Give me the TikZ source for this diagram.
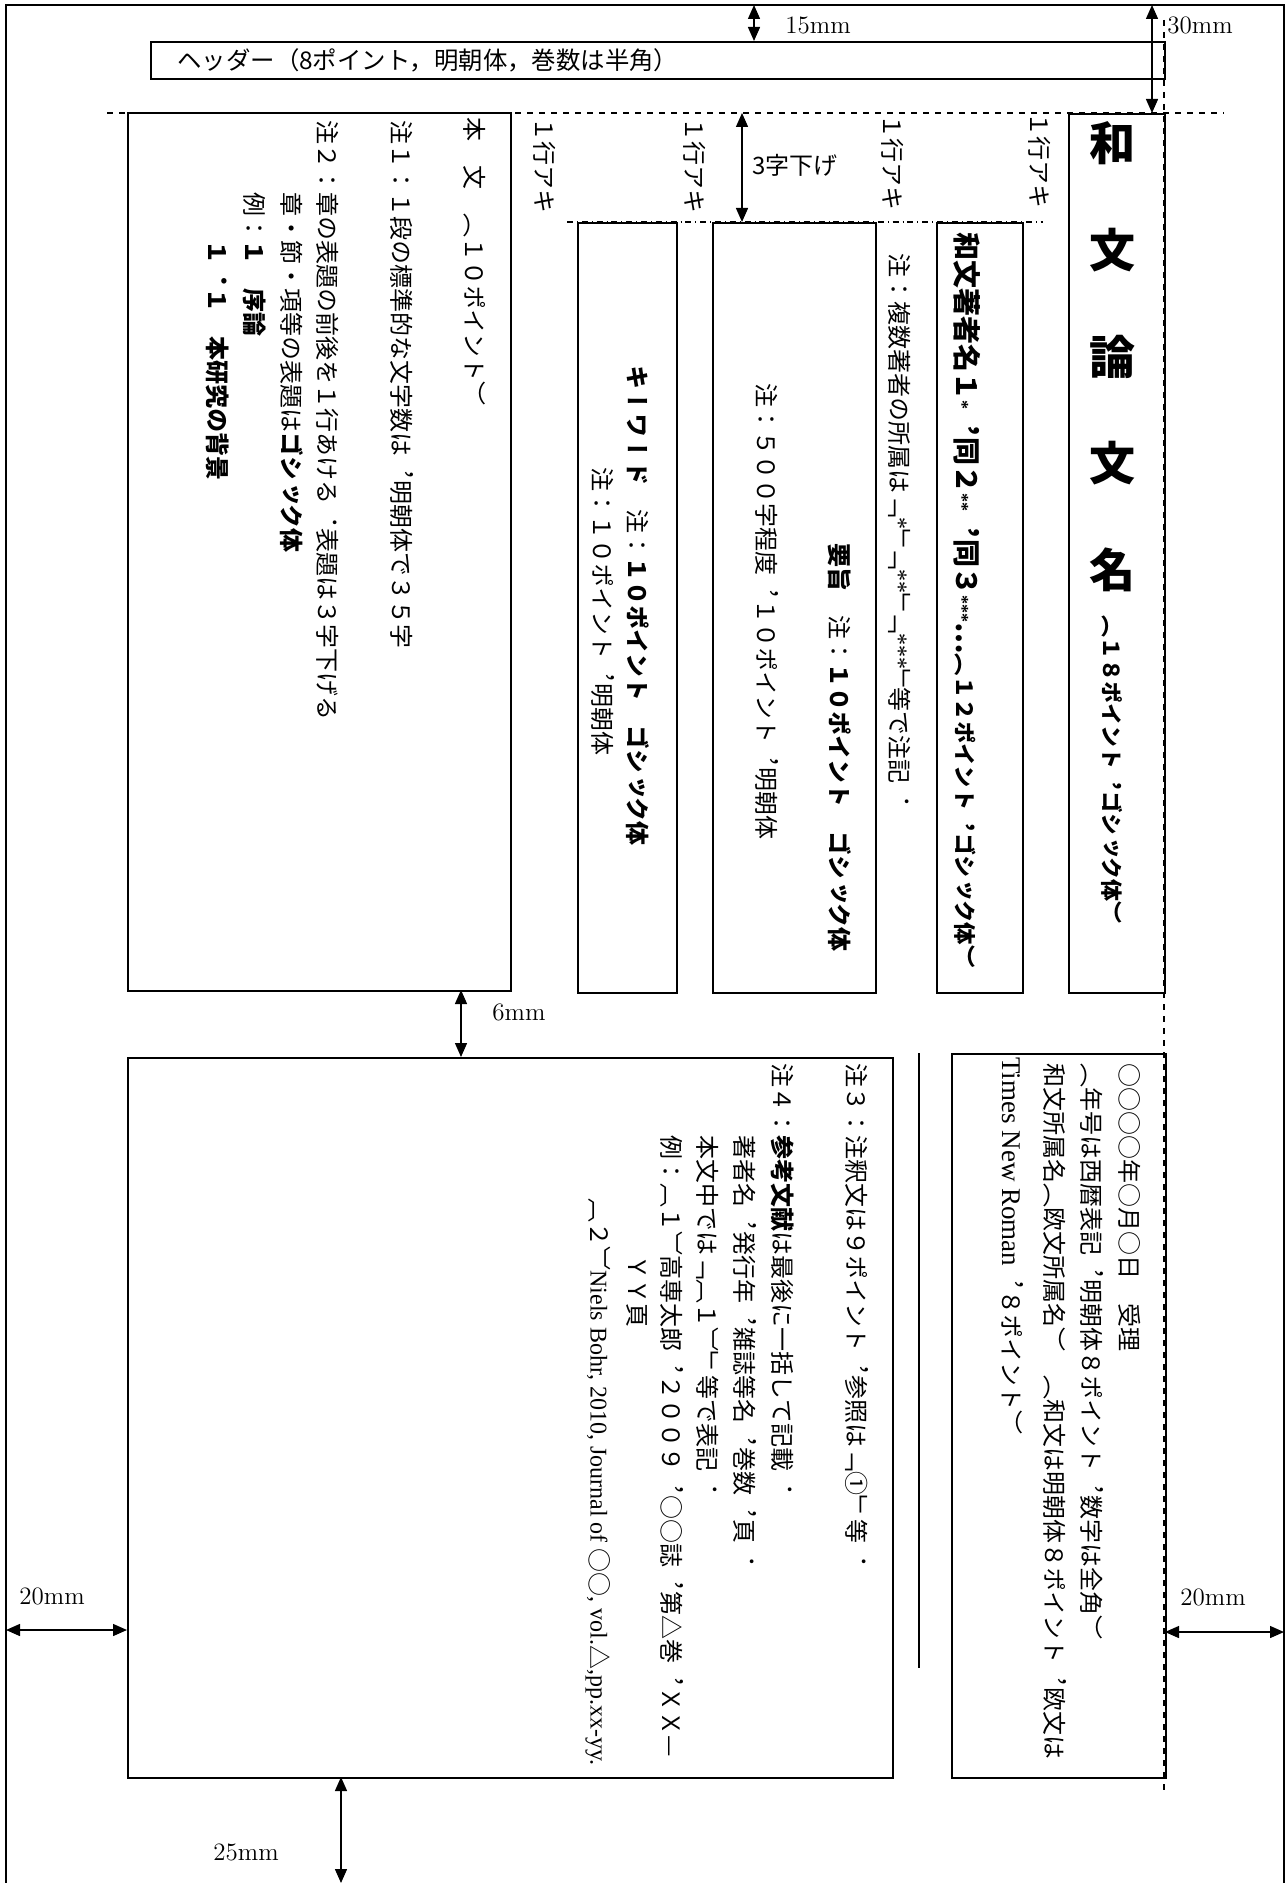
\documentclass[tikz,border=0pt]{standalone}
\usepackage{fontspec}
\usetikzlibrary{arrows.meta}
\newfontfamily\tate[Vertical=RotatedGlyphs]{Noto Sans CJK JP}
\newfontfamily\yoko{Noto Sans CJK JP}
\newfontfamily\lat{Liberation Serif}
\newcommand\myast[1]{{\lat\bfseries\fontsize{9}{10}\selectfont #1}}
\tikzset{
  vt/.style={rotate=-90,anchor=west,inner sep=0pt,font=\tate\fontsize{12}{14}\selectfont},
  vtb/.style={vt,font=\tate\bfseries\fontsize{12}{14}\selectfont},
  frame/.style={draw,line width=0.8pt},
  dim/.style={line width=0.7pt,{Triangle[length=7pt,width=6pt]}-{Triangle[length=7pt,width=6pt]}},
  dimlabel/.style={anchor=west,inner sep=0pt,font=\fontsize{12.5}{14}\selectfont},
  titlechar/.style={inner sep=0pt,font=\yoko\bfseries\fontsize{23}{25}\selectfont},
}
\begin{document}
\begin{tikzpicture}[x=0.5pt,y=-0.5pt]
\useasboundingbox (0,0) rectangle (1288,1883);
% page border
\draw[line width=1pt] (6,1900) -- (6,5) -- (1284,5) -- (1284,1900);
% guide lines
\draw[dashed,line width=0.7pt] (107,113) -- (1224,113);
\draw[dashed,line width=0.8pt] (1164,20) -- (1164,1793);
\draw[dashdotted,line width=0.7pt] (567,222) -- (1043,222);
% header
\node[frame,minimum width=507pt,minimum height=18.5pt,anchor=north west,inner sep=0pt] (header) at (150,41) {};
\node[anchor=west,inner sep=0pt,font=\yoko\fontsize{12.2}{14}\selectfont] (headertext) at (177,60) {ヘッダー（8ポイント，明朝体，巻数は半角）};
% boxes
\node[frame,anchor=north west,minimum width=191.5pt,minimum height=439pt,inner sep=0pt] (honbun) at (127,112) {};
\node[frame,anchor=north west,minimum width=49.5pt,minimum height=385pt,inner sep=0pt] (kw) at (577,222) {};
\node[frame,anchor=north west,minimum width=81.5pt,minimum height=385pt,inner sep=0pt] (abs) at (712,222) {};
\node[frame,anchor=north west,minimum width=43pt,minimum height=385pt,inner sep=0pt] (au) at (936,222) {};
\node[frame,anchor=north west,minimum width=48pt,minimum height=439.5pt,inner sep=0pt] (title) at (1068,113) {};
\node[frame,anchor=north west,minimum width=382.5pt,minimum height=360pt,inner sep=0pt] (body) at (127,1057) {};
\node[frame,anchor=north west,minimum width=107pt,minimum height=362pt,inner sep=0pt] (recv) at (951,1053) {};
\coordinate (sepA) at (919,1053);
\coordinate (sepB) at (919,1668);
\draw[line width=0.8pt] (sepA) -- (sepB);
% dimension arrows
\coordinate (d15a) at (754,5); \coordinate (d15b) at (754,41);
\draw[dim] (d15a) -- (d15b);
\node[dimlabel] (l15) at (785,25) {15mm};
\coordinate (d30a) at (1152,5); \coordinate (d30b) at (1152,113);
\draw[dim] (d30a) -- (d30b);
\node[dimlabel] (l30) at (1167,25) {30mm};
\coordinate (d3a) at (742,113); \coordinate (d3b) at (742,222);
\draw[dim] (d3a) -- (d3b);
\node[anchor=west,inner sep=0pt,font=\yoko\fontsize{12}{14}\selectfont] (l3) at (752,165) {3字下げ};
\coordinate (d6a) at (461,990); \coordinate (d6b) at (461,1057);
\draw[dim] (d6a) -- (d6b);
\node[dimlabel] (l6) at (492,1012) {6mm};
\coordinate (dLa) at (6,1630); \coordinate (dLb) at (127,1630);
\draw[dim] (dLa) -- (dLb);
\node[dimlabel] (lL) at (19,1596) {20mm};
\coordinate (dRa) at (1165,1632); \coordinate (dRb) at (1284,1632);
\draw[dim] (dRa) -- (dRb);
\node[dimlabel] (lR) at (1180,1597) {20mm};
\coordinate (d25a) at (341,1777); \coordinate (d25b) at (341,1883);
\draw[dim] (d25a) -- (d25b);
\node[dimlabel] (l25) at (213,1852) {25mm};
% 1行アキ
\node[vt] (aki1) at (545,117) {１行アキ};
\node[vt] (aki2) at (695,117) {１行アキ};
\node[vt] (aki3) at (893,114) {１行アキ};
\node[vt] (aki4) at (1040,112) {１行アキ};
% honbun column texts
\node[vt] (h1) at (475,117) {本　文　（１０ポイント）};
\node[vt] (h2) at (402,120) {注１：１段の標準的な文字数は，明朝体で３５字};
\node[vt] (h3) at (328,120) {注２：章の表題の前後を１行あける．表題は３字下げる};
\node[vt] (h4) at (292,192) {章・節・項等の表題は\textbf{ゴシック体}};
\node[vt] (h5) at (255,192) {例：\textbf{１　序論}};
\node[vtb] (h6) at (218,240) {１．１　本研究の背景};
% keyword
\node[vt] (k1) at (638,365) {\textbf{キーワード}　注：\textbf{１０ポイント　ゴシック体}};
\node[vt] (k2) at (603,467) {注：１０ポイント，明朝体};
% abstract
\node[vt] (a1) at (767,383) {注：５００字程度，１０ポイント，明朝体};
\node[vt] (a2) at (840,543) {\textbf{要旨}　注：\textbf{１０ポイント　ゴシック体}};
% author note
\node[vt] (n1) at (900,253) {注：複数著者の所属は「{\lat *}」\kern-4pt「{\lat **}」\kern-4pt「{\lat ***}」\kern-3pt 等で注記．};
% author
\node[vtb] (au1) at (967,232) {{\fontsize{14}{16}\selectfont 和文著者名１\myast{*}，同２\myast{**}，同３\myast{***}…}{\fontsize{11.2}{13}\selectfont （１２ポイント，ゴシック体）}};
% title
\node[titlechar] (t1) at (1112,143) {和};
\node[titlechar] (t2) at (1112,250) {文};
\node[titlechar] (t3) at (1112,357) {論};
\node[titlechar] (t4) at (1112,463) {文};
\node[titlechar] (t5) at (1112,570) {名};
\node[vtb,font=\tate\bfseries\fontsize{11}{13}\selectfont] (t6) at (1112,615) {（１８ポイント，ゴシック体）};
% received box
\node[vt] (r1) at (1130,1063) {○○○○年○月○日　受理};
\node[vt] (r2) at (1092,1063) {（年号は西暦表記，明朝体８ポイント，数字は全角）};
\node[vt] (r3) at (1055,1063) {和文所属名（欧文所属名）　（和文は明朝体８ポイント，欧文は};
\node[vt] (r4) at (1013,1057) {{\lat\fontsize{13.5}{15}\selectfont Times New Roman}，８ポイント）};
% body box
\node[vt] (b1) at (857,1063) {注３：注釈文は９ポイント，参照は「①」等．};
\node[vt] (b2) at (783,1063) {注４：\textbf{参考文献}は最後に一括して記載．};
\node[vt] (b3) at (745,1135) {著者名，発行年，雑誌等名，巻数，頁．};
\node[vt] (b4) at (708,1135) {本文中では「〔１〕」等で表記．};
\node[vt] (b5) at (672,1135) {例：〔１〕高専太郎，２００９，○○誌，第△巻，ＸＸ—};
\node[vt] (b6) at (637,1255) {ＹＹ頁};
\node[vt] (b7) at (598,1198) {〔２〕{\lat Niels Bohr, 2010, Journal of }○○{\lat , vol.}△{\lat ,pp.xx-yy.}};
\end{tikzpicture}
\end{document}
